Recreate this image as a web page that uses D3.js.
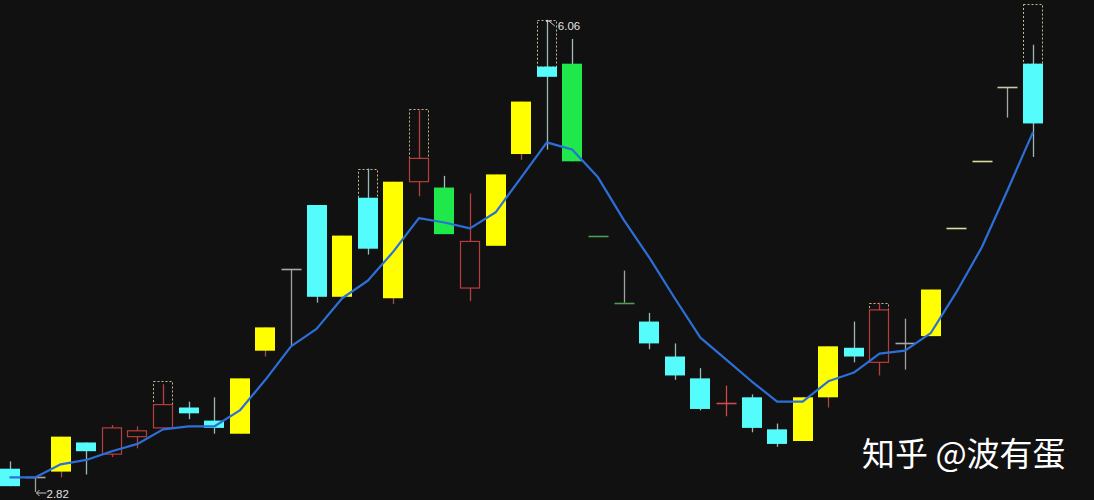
<!DOCTYPE html>
<html>
<head>
<meta charset="utf-8">
<script src="https://cdn.jsdelivr.net/npm/d3@7"></script>
<style>
  html, body { margin: 0; padding: 0; background: #111111; }
  svg { display: block; }
</style>
</head>
<body>
<svg id="chart" width="1094" height="500"></svg>
<script>
// ---- data (prices) ----
const kinds = ["cyan","dojiGray","yellow","cyan","red","red","red","cyan","cyan","yellow",
  "yellow","dojiGray","cyan","yellow","cyan","yellow","red","green","red","yellow",
  "yellow","cyan","green","dojiGreen","dojiGreenT","cyan","cyan","cyan","dojiRed","cyan",
  "cyan","yellow","yellow","cyan","red","dojiGray","yellow","dojiYellow","dojiYellow","dojiPale",
  "cyan"];
const opens  = [2.98,2.92,2.96,3.16,3.08,3.20,3.26,3.40,3.31,3.22,
  3.79,4.35,4.79,4.16,4.84,4.15,4.95,4.91,4.22,4.51,
  5.14,5.74,5.76,4.58,4.12,3.99,3.75,3.60,3.43,3.47,
  3.25,3.17,3.47,3.81,3.71,3.84,3.89,4.63,5.09,5.60,
  5.76];
const closes = [2.86,2.92,3.20,3.10,3.26,3.24,3.42,3.36,3.26,3.60,
  3.95,4.35,4.16,4.58,4.49,4.95,5.11,4.59,4.54,5.00,
  5.50,5.67,5.09,4.58,4.12,3.84,3.62,3.39,3.43,3.26,
  3.15,3.47,3.82,3.75,4.07,3.84,4.21,4.63,5.09,5.60,
  5.35];
const highs  = [3.03,2.92,3.20,3.16,3.28,3.27,3.56,3.44,3.47,3.60,
  3.95,4.35,4.79,4.58,5.04,4.95,5.44,4.99,4.87,5.00,
  5.50,6.06,5.93,4.58,4.34,4.05,3.84,3.67,3.55,3.49,
  3.29,3.47,3.82,3.99,4.12,4.01,4.21,4.63,5.09,5.60,
  5.89];
const lows   = [2.86,2.82,2.92,2.94,3.06,3.12,3.26,3.32,3.22,3.22,
  3.75,3.82,4.12,4.16,4.45,4.11,4.85,4.59,4.13,4.51,
  5.10,5.17,5.09,4.58,4.12,3.80,3.59,3.38,3.34,3.23,
  3.13,3.17,3.40,3.71,3.62,3.66,3.89,4.63,5.09,5.39,
  5.12];
// dotted box tops above some candles (null = none)
const boxTops = [null,null,null,null,null,null,3.58,null,null,null,
  null,null,null,null,5.04,null,5.45,null,null,null,
  null,6.06,null,null,null,null,null,null,null,null,
  null,null,null,null,4.12,null,null,null,null,null,
  6.17];
const ma = [2.92,2.92,3.01,3.04,3.10,3.15,3.25,3.27,3.27,3.38,
  3.59,3.82,3.94,4.15,4.27,4.47,4.70,4.67,4.63,4.74,
  4.98,5.22,5.17,4.98,4.69,4.43,4.15,3.88,3.73,3.58,
  3.44,3.44,3.58,3.64,3.77,3.79,3.91,4.19,4.50,4.89,
  5.29];
const maxLabel = "6.06";
const minLabel = "2.82";
const watermark = "知乎 @波有蛋";

// ---- styles ----
const styles = {
  cyan:      {fill:"#55fcfc", stroke:"#55fcfc", wick:"#9ab8b8"},
  yellow:    {fill:"#ffff00", stroke:"#ffff00", wick:"#a84848"},
  green:     {fill:"#1fe84a", stroke:"#1fe84a", wick:"#a6bcbc"},
  red:       {fill:"none",    stroke:"#b83e3e", wick:"#b83e3e"},
  dojiGray:  {line:"#a8a8a8", wick:"#a0a0a0"},
  dojiGreen: {line:"#4f9d55", wick:"#4f9d55"},
  dojiGreenT:{line:"#4f9d55", wick:"#a0a0a0"},
  dojiRed:   {line:"#d24848", wick:"#d24848"},
  dojiYellow:{line:"#dcdca0", wick:"#dcdca0"},
  dojiPale:  {line:"#c8c8b0", wick:"#a8a8a0"}
};

const svg = d3.select("#chart");
const W = 1094, H = 500;
svg.append("rect").attr("width", W).attr("height", H).attr("fill", "#111111");

const idx = d3.range(kinds.length);
const x = d3.scalePoint().domain(idx).range([9.5, 1033]);
const y = d3.scaleLinear().domain([2.82, 6.06]).range([492, 20]);
const half = 10;

const g = svg.append("g");

// dotted boxes
idx.filter(i => boxTops[i] !== null).forEach(i => {
  const bodyTop = Math.max(opens[i], closes[i]);
  g.append("rect")
    .attr("x", Math.round(x(i) - half) + 0.5)
    .attr("y", Math.round(y(boxTops[i])) + 0.5)
    .attr("width", 2 * half - 1)
    .attr("height", y(bodyTop) - y(boxTops[i]))
    .attr("fill", "none")
    .attr("stroke", "#c8b890")
    .attr("stroke-width", 1)
    .attr("stroke-dasharray", "2,2");
});

// candles
idx.forEach(i => {
  const k = kinds[i], s = styles[k];
  const cx = Math.round(x(i)) + 0.5;
  const top = Math.max(opens[i], closes[i]);
  const bot = Math.min(opens[i], closes[i]);
  g.append("line")
    .attr("x1", cx).attr("x2", cx)
    .attr("y1", y(highs[i])).attr("y2", y(lows[i]))
    .attr("stroke", s.wick).attr("stroke-width", 1.3);
  if (k.startsWith("doji")) {
    g.append("line")
      .attr("x1", cx - half).attr("x2", cx + half)
      .attr("y1", Math.round(y(top)) + 0.5).attr("y2", Math.round(y(top)) + 0.5)
      .attr("stroke", s.line).attr("stroke-width", 1.6);
  } else if (k === "red") {
    g.append("rect")
      .attr("x", cx - half).attr("y", y(top))
      .attr("width", 2 * half - 1).attr("height", y(bot) - y(top))
      .attr("fill", "#111111").attr("stroke", s.stroke).attr("stroke-width", 1.2);
  } else {
    g.append("rect")
      .attr("x", cx - half - 0.5).attr("y", y(top))
      .attr("width", 2 * half).attr("height", Math.max(1, y(bot) - y(top)))
      .attr("fill", s.fill);
  }
});

// moving average line
const line = d3.line().x((d, i) => x(i)).y(d => y(d));
svg.append("path")
  .datum(ma)
  .attr("d", line)
  .attr("fill", "none")
  .attr("stroke", "#2d6fd8")
  .attr("stroke-width", 2.2)
  .attr("stroke-linejoin", "round");

// max label
const iMax = highs.indexOf(d3.max(highs));
const hx = x(iMax), hy = y(highs[iMax]);
svg.append("circle").attr("cx", hx + 0.5).attr("cy", hy + 1).attr("r", 1.3).attr("fill", "#d8d8d8");
svg.append("line").attr("x1", hx + 2).attr("y1", hy + 1).attr("x2", hx + 8).attr("y2", hy + 6)
  .attr("stroke", "#c8c8c8").attr("stroke-width", 1);
svg.append("line").attr("x1", hx + 2).attr("y1", hy + 1).attr("x2", hx + 5).attr("y2", hy + 1)
  .attr("stroke", "#c8c8c8").attr("stroke-width", 1);
svg.append("text").attr("x", hx + 11).attr("y", hy + 10)
  .attr("fill", "#e0e0e0").attr("font-family", "Liberation Sans, Arial, sans-serif")
  .attr("font-size", 11.5).text(maxLabel);

// min label
const iMin = lows.indexOf(d3.min(lows));
const lx = Math.round(x(iMin)) + 0.5, ly = y(lows[iMin]) + 1;
svg.append("line").attr("x1", lx + 1).attr("y1", ly).attr("x2", lx + 11).attr("y2", ly)
  .attr("stroke", "#c8c8c8").attr("stroke-width", 1);
svg.append("path").attr("d", `M${lx + 4},${ly - 3} L${lx + 1},${ly} L${lx + 4},${ly + 3}`)
  .attr("fill", "none").attr("stroke", "#c8c8c8").attr("stroke-width", 1);
svg.append("text").attr("x", lx + 11).attr("y", ly + 5)
  .attr("fill", "#e0e0e0").attr("font-family", "Liberation Sans, Arial, sans-serif")
  .attr("font-size", 11.5).text(minLabel);

// watermark
svg.append("text").attr("x", 862).attr("y", 466)
  .attr("fill", "#ffffff")
  .attr("font-family", "Noto Sans CJK SC, sans-serif")
  .attr("font-size", 33)
  .text(watermark);
</script>
</body>
</html>
